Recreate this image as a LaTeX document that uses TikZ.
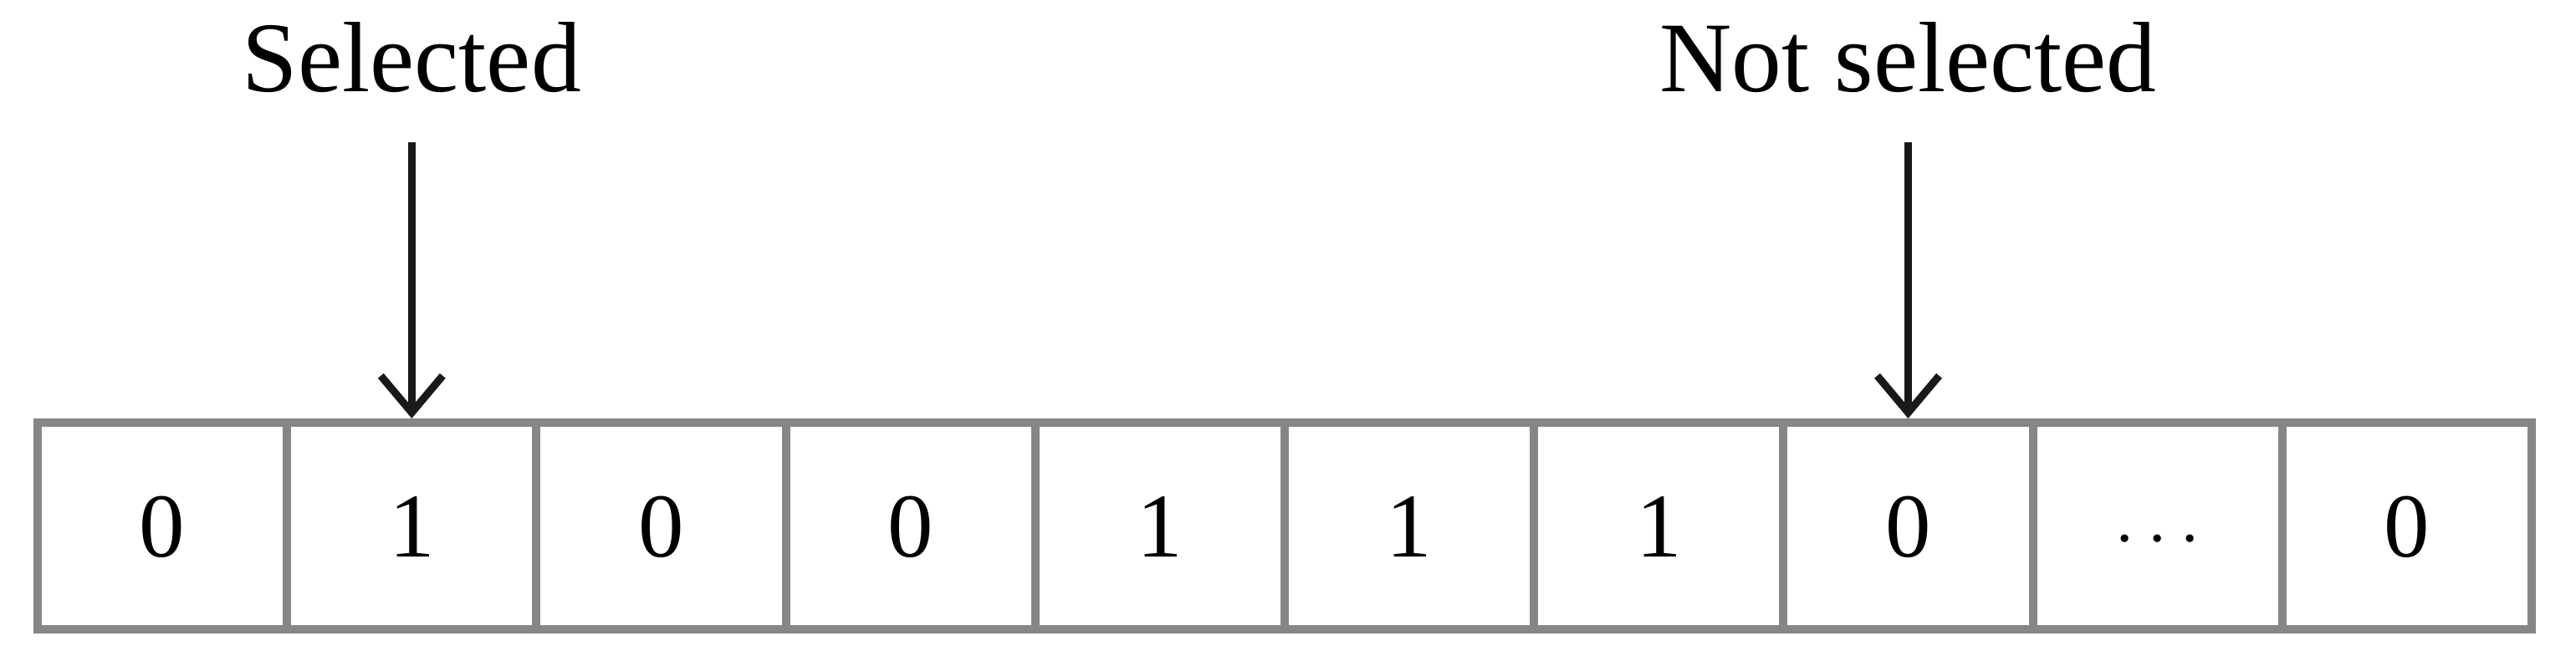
\documentclass[tikz,border=0pt]{standalone}
\usepackage{fontspec}
\setmainfont{Liberation Serif}
\usetikzlibrary{arrows.meta, positioning}

\begin{document}
\begin{tikzpicture}[
            > = {Straight Barb[length=4.4mm, width=7.4mm]}, % open arrow head
            line width = 0.09cm,
            node distance = 3.86cm % from a cell up to its label
        ]

        \tikzstyle{cell}=[
            draw = gray!95!white,
            line width = 0.1cm,
            rectangle,
            minimum width = 2.982cm,
            minimum height = 2.47cm,
            inner sep = 0pt,
            text height = 0.75cm,
            text depth = 0pt,
            font = \fontsize{31}{36}\selectfont
        ]
        \tikzstyle{tag}=[
            inner sep = 0pt,
            text depth = 0pt,
            font = \fontsize{34}{40}\selectfont
        ]

        \useasboundingbox (0,0) rectangle (30.80,8.03);

        % the row of bits
        \foreach \bit [count=\i] in {0,1,0,0,1,1,1,0,$\cdots$,0}
            \node (c\i) [cell] at ({0.45+2.982*(\i-0.5)},1.745) {\bit};

        \node (sel) [tag, above=of c2] {Selected};
        \node (notsel) [tag, above=of c8] {Not selected};

        \draw[->, draw = black!90, shorten <= 0.56cm] (sel) -- (c2);
        \draw[->, draw = black!90, shorten <= 0.56cm] (notsel) -- (c8);

    \end{tikzpicture}
\end{document}
